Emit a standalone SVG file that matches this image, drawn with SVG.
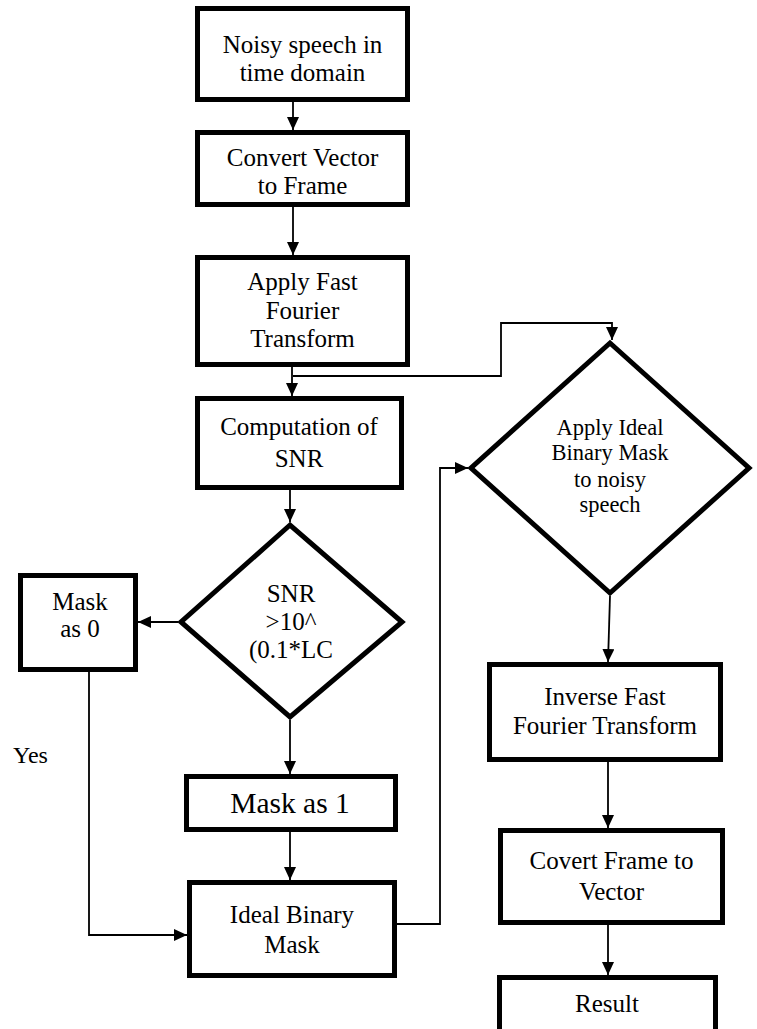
<svg xmlns="http://www.w3.org/2000/svg" width="757" height="1029" viewBox="0 0 757 1029">
<style>
.box{fill:#fff;stroke:#000;stroke-width:5}
.dia{fill:#fff;stroke:#000;stroke-width:5;stroke-linejoin:miter}
.t{font-family:'Liberation Serif','Times New Roman',Times,'Nimbus Roman','DejaVu Serif',serif;font-size:25px;fill:#000;text-anchor:middle}
.td{font-family:'Liberation Serif','Times New Roman',Times,'Nimbus Roman','DejaVu Serif',serif;font-size:22.5px;fill:#000;text-anchor:middle}
.c{fill:none;stroke:#000;stroke-width:1.8}
</style>
<defs>
<marker id="ah" markerUnits="userSpaceOnUse" markerWidth="13" markerHeight="12" refX="13" refY="6" orient="auto">
<path d="M0,0 L13,6 L0,12 z" fill="#000"/>
</marker>
</defs>
<g id="connectors">
<path class="c" d="M293,102 V130" marker-end="url(#ah)"/>
<path class="c" d="M293,207 V255" marker-end="url(#ah)"/>
<path class="c" d="M292,367 V396" marker-end="url(#ah)"/>
<path class="c" d="M293,376 H501 V323 H612 V340" marker-end="url(#ah)"/>
<path class="c" d="M290,490 V522" marker-end="url(#ah)"/>
<path class="c" d="M178,622 H138" marker-end="url(#ah)"/>
<path class="c" d="M290,720 V774" marker-end="url(#ah)"/>
<path class="c" d="M290,832 V880" marker-end="url(#ah)"/>
<path class="c" d="M89,672 V935 H187" marker-end="url(#ah)"/>
<path class="c" d="M397,924 H440 V468 H468" marker-end="url(#ah)"/>
<path class="c" d="M610,596 L608,662" marker-end="url(#ah)"/>
<path class="c" d="M608,762 V828" marker-end="url(#ah)"/>
<path class="c" d="M608,925 V975" marker-end="url(#ah)"/>
</g>
<g id="n1"><rect class="box" x="197.5" y="8.5" width="210" height="91"/>
<text class="t" x="302.5" y="53">Noisy speech in</text><text class="t" x="302.5" y="81">time domain</text></g>
<g id="n2"><rect class="box" x="197.5" y="132.5" width="210" height="72"/>
<text class="t" x="302.5" y="166">Convert Vector</text><text class="t" x="302.5" y="194">to Frame</text></g>
<g id="n3"><rect class="box" x="197.5" y="257.5" width="210" height="107"/>
<text class="t" x="302.5" y="290">Apply Fast</text><text class="t" x="302.5" y="319">Fourier</text><text class="t" x="302.5" y="347">Transform</text></g>
<g id="n4"><rect class="box" x="197.5" y="398.5" width="204" height="89"/>
<text class="t" x="299" y="435">Computation of</text><text class="t" x="299" y="467">SNR</text></g>
<g id="d1"><polygon class="dia" points="290,525 181,622 290,717 402,622"/>
<text class="t" x="291" y="602">SNR</text><text class="t" x="291" y="630">&gt;10^</text><text class="t" x="291" y="658">(0.1*LC</text></g>
<g id="m0"><rect class="box" x="20.5" y="575.5" width="115" height="94"/>
<text class="t" x="80" y="610">Mask</text><text class="t" x="80" y="637">as 0</text></g>
<g id="m1"><rect class="box" x="186.5" y="776.5" width="209" height="53"/>
<text class="t" x="290" y="813" style="font-size:29.5px">Mask as 1</text></g>
<g id="ibm"><rect class="box" x="189.5" y="882.5" width="205" height="93"/>
<text class="t" x="292" y="923">Ideal Binary</text><text class="t" x="292" y="953">Mask</text></g>
<g id="d2"><polygon class="dia" points="610,343 471,468 610,593 749,468"/>
<text class="td" x="610" y="435">Apply Ideal</text><text class="td" x="610" y="460">Binary Mask</text><text class="td" x="610" y="487">to noisy</text><text class="td" x="610" y="512">speech</text></g>
<g id="ifft"><rect class="box" x="489.5" y="664.5" width="231" height="95"/>
<text class="t" x="605" y="705">Inverse Fast</text><text class="t" x="605" y="734">Fourier Transform</text></g>
<g id="cfv"><rect class="box" x="500.5" y="830.5" width="222" height="92"/>
<text class="t" x="611.5" y="869">Covert Frame to</text><text class="t" x="611.5" y="900">Vector</text></g>
<g id="res"><rect class="box" x="499.5" y="977.5" width="216" height="60"/>
<text class="t" x="607" y="1012">Result</text></g>
<g id="lbl"><text class="t" x="13" y="763" style="text-anchor:start;font-size:24px">Yes</text></g>
</svg>
